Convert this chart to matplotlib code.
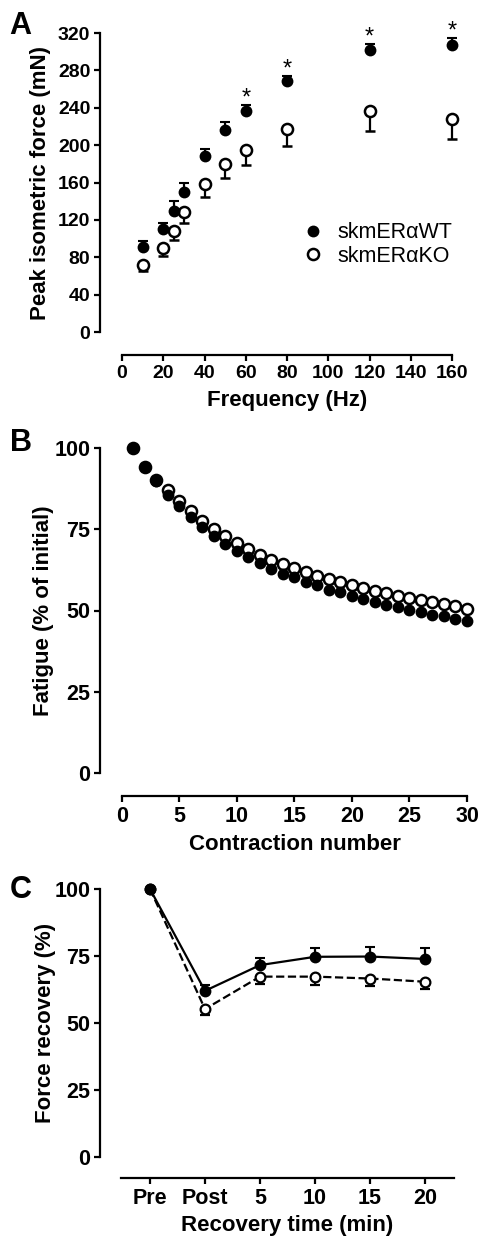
import matplotlib
matplotlib.use('Agg')
import matplotlib.pyplot as plt

plt.rcParams['font.family'] = ['Liberation Sans', 'DejaVu Sans']
plt.rcParams['font.weight'] = 'bold'

# panel A - force-frequency
freq = [10, 20, 25, 30, 40, 50, 60, 80, 120, 160]
wt_force = [91, 110, 130, 150, 188, 216, 236, 269, 302, 307]
wt_force_err = [6, 7, 10, 9.5, 8, 8.5, 7, 5, 6, 7.5]
ko_force = [72, 90, 108, 128, 158, 180, 195, 217, 236, 228]
ko_force_err = [6.5, 8.3, 9.7, 11.3, 13, 15.7, 16.8, 18.3, 21, 21.4]
star_freq = [60, 80, 120, 160]

# panel B - fatigue
contraction = list(range(1, 31))
wt_fatigue = [100, 94.2, 89.9, 85.6, 82.1, 78.7, 75.6, 72.8, 70.5, 68.4,
              66.5, 64.6, 62.9, 61.3, 60.2, 58.9, 57.7, 56.4, 55.6, 54.6,
              53.5, 52.6, 51.7, 51.1, 50.3, 49.5, 48.7, 48.2, 47.5, 46.7]
ko_fatigue = [100, 94.2, 90.3, 87.0, 83.6, 80.5, 77.6, 75.1, 72.8, 70.8,
              68.9, 67.2, 65.6, 64.3, 63.0, 61.7, 60.6, 59.6, 58.7, 57.7,
              56.8, 56.1, 55.3, 54.6, 53.7, 53.1, 52.5, 51.9, 51.4, 50.6]

# panel C - recovery
rec_labels = ['Pre', 'Post', '5', '10', '15', '20']
wt_rec = [100, 62, 71.6, 74.7, 74.8, 73.9]
wt_rec_err = [0, 2, 2.7, 3.2, 3.6, 4]
ko_rec = [100, 55.2, 67.3, 67.3, 66.6, 65.4]
ko_rec_err = [0, 2.2, 2.9, 3.1, 2.8, 2.8]

W, H = 481, 1240
PT = 72 / 100  # points per pixel
fig = plt.figure(figsize=(W / 100, H / 100), dpi=100)


def make_ax(left, top, right, bottom):
    return fig.add_axes([left / W, 1 - bottom / H, (right - left) / W, (bottom - top) / H])


def style(ax, ybounds, xbounds, offset_px, tsize):
    for s in ['top', 'right']:
        ax.spines[s].set_visible(False)
    for s in ['left', 'bottom']:
        ax.spines[s].set_linewidth(1.6)
    ax.spines['bottom'].set_position(('outward', offset_px * PT))
    ax.spines['left'].set_bounds(*ybounds)
    ax.spines['bottom'].set_bounds(*xbounds)
    ax.tick_params(width=1.6, length=4, labelsize=tsize, pad=3)
    for lab in ax.get_xticklabels() + ax.get_yticklabels():
        lab.set_fontweight('bold')
    # points sitting on the axis limits must not get cut
    for art in ax.lines + ax.collections:
        art.set_clip_on(False)


def place_labels(ax, xlab, ylab, box, spine_px, xlab_y, ylab_x):
    left, top, right, bottom = box
    ax.set_xlabel(xlab, fontsize=16, fontweight='bold')
    ax.set_ylabel(ylab, fontsize=16, fontweight='bold')
    ax.xaxis.set_label_coords((sum(spine_px) / 2 - left) / (right - left),
                              (bottom - xlab_y) / (bottom - top))
    ax.xaxis.label.set_verticalalignment('center')
    ax.yaxis.set_label_coords((ylab_x - left) / (right - left), 0.5)
    ax.yaxis.label.set_verticalalignment('center')


filled = dict(marker='o', color='black', mfc='black', mec='black', ms=7, mew=1.5)
hollow = dict(marker='o', color='black', mfc='white', mec='black', ms=8, mew=1.8)

# ---- A ----
boxA = (100, 33, 452, 332)
axA = make_ax(*boxA)
axA.errorbar(freq, ko_force, yerr=[ko_force_err, [0] * len(freq)], ls='none',
             capsize=3.3, elinewidth=1.6, capthick=1.6, label='skmER\u03b1KO', **hollow)
axA.errorbar(freq, wt_force, yerr=[[0] * len(freq), wt_force_err], ls='none',
             capsize=3.3, elinewidth=1.6, capthick=1.6, label='skmER\u03b1WT', **filled)
for f in star_freq:
    i = freq.index(f)
    axA.text(f, wt_force[i] + wt_force_err[i] - 5, '*', ha='center', va='bottom',
             fontsize=17, fontweight='normal', clip_on=False)
axA.set_xlim(-10.67, 160)
axA.set_ylim(0, 320)
axA.set_xticks(range(0, 161, 20))
axA.set_yticks(range(0, 321, 40))
style(axA, (0, 320), (0, 160), 23, 14)
place_labels(axA, 'Frequency (Hz)', 'Peak isometric force (mN)', boxA, (122, 452), 400, 41)
handles, labels = axA.get_legend_handles_labels()
handles = [h[0] for h in handles][::-1]
labels = labels[::-1]
axA.legend(handles, labels, loc='center left', bbox_to_anchor=(0.568, 0.293), frameon=False,
           prop={'size': 15.5, 'weight': 'normal'}, handletextpad=0.55, labelspacing=0.12,
           handlelength=1.2, borderpad=0, borderaxespad=0)
fig.text(9 / W, 1 - 34 / H, 'A', fontsize=22, fontweight='bold')

# ---- B ----
boxB = (100, 448, 467, 773)
axB = make_ax(*boxB)
axB.plot(contraction, ko_fatigue, ls='none', **hollow)
axB.plot(contraction, wt_fatigue, ls='none', **filled)
axB.set_xlim(-1.913, 30)
axB.set_ylim(0, 100)
axB.set_xticks(range(0, 31, 5))
axB.set_yticks(range(0, 101, 25))
style(axB, (0, 100), (0, 30), 23, 15.5)
place_labels(axB, 'Contraction number', 'Fatigue (% of initial)', boxB, (122, 467), 845, 44)
fig.text(10 / W, 1 - 451 / H, 'B', fontsize=22, fontweight='bold')

# ---- C ----
xc = list(range(len(rec_labels)))
boxC = (100, 889, 454, 1157)
axC = make_ax(*boxC)
axC.errorbar(xc, ko_rec, yerr=[ko_rec_err, [0] * len(xc)], ls='--', lw=1.6,
             capsize=3.3, elinewidth=1.6, capthick=1.6, marker='o', color='black',
             mfc='white', mec='black', ms=7, mew=1.6)
axC.errorbar(xc, wt_rec, yerr=[[0] * len(xc), wt_rec_err], ls='-', lw=1.6,
             capsize=3.3, elinewidth=1.6, capthick=1.6, marker='o', color='black',
             mfc='black', mec='black', ms=7, mew=1.5)
axC.set_xlim(-0.909, 5.527)
axC.set_ylim(0, 100)
axC.set_xticks(xc)
axC.set_xticklabels(rec_labels)
axC.set_yticks(range(0, 101, 25))
style(axC, (0, 100), (-0.527, 5.527), 21, 15.5)
place_labels(axC, 'Recovery time (min)', 'Force recovery (%)', boxC, (121, 454), 1225, 45)
fig.text(10 / W, 1 - 898 / H, 'C', fontsize=22, fontweight='bold')

fig.savefig('out.png', dpi=100, facecolor='white')
